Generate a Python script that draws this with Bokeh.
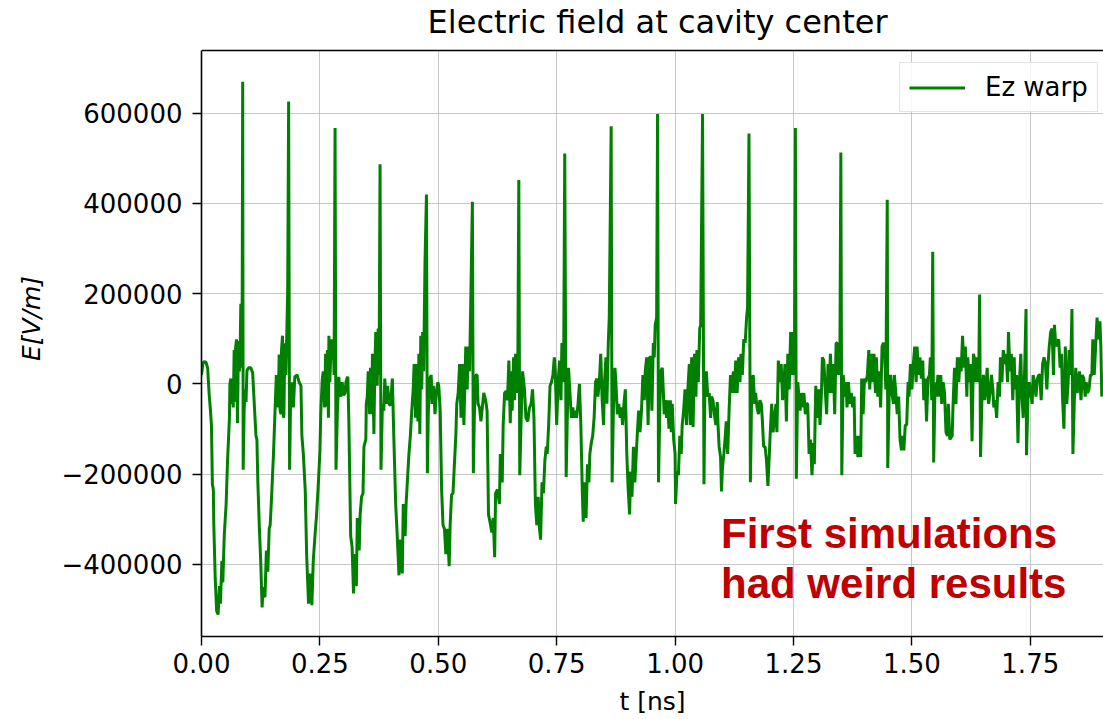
from bokeh.plotting import figure
from bokeh.models import Range1d, FixedTicker, Label, Legend, LegendItem, BoxAnnotation, Span
from bokeh.embed import file_html
from bokeh.resources import INLINE

# ---- data: time [ns] and Ez [kV/m], in six segments ----
t_a = [0.000, 0.003, 0.006, 0.010, 0.013, 0.016, 0.019, 0.021, 0.023, 0.025, 0.026, 0.029, 0.032, 0.035, 0.038, 0.040, 0.043, 0.045, 0.048, 0.052, 0.055, 0.059, 0.060, 0.062, 0.064, 0.066, 0.067, 0.069, 0.071, 0.072, 0.074, 0.076, 0.078, 0.080, 0.082, 0.083, 0.085, 0.086, 0.087, 0.088, 0.090, 0.092, 0.094, 0.096, 0.100, 0.104, 0.108, 0.111, 0.115, 0.117, 0.119, 0.122, 0.125, 0.128, 0.130, 0.132, 0.134, 0.137, 0.140, 0.143, 0.145, 0.148, 0.152, 0.155, 0.158, 0.160, 0.162, 0.164, 0.166, 0.168, 0.169, 0.171, 0.173, 0.174, 0.176, 0.178, 0.180, 0.182, 0.184, 0.186, 0.188, 0.190, 0.191, 0.194, 0.197, 0.202, 0.206, 0.210, 0.212, 0.215, 0.219, 0.222, 0.226, 0.229, 0.233, 0.236, 0.240, 0.243, 0.247, 0.250, 0.252, 0.255, 0.257, 0.260, 0.262, 0.264, 0.266, 0.268, 0.269, 0.271, 0.274, 0.276, 0.278, 0.280, 0.282, 0.284, 0.287, 0.290, 0.292, 0.294, 0.297, 0.300, 0.303, 0.305, 0.307, 0.309, 0.311]
e_a = [20, 45, 50, 47, 35, -20, -60, -91, -222, -234, -313, -432, -503, -511, -448, -487, -392, -440, -337, -266, -170, -75, 0, 12, -45, 10, -52, 75, -40, 80, 99, -87, 95, 28, 100, 178, 36, 210, 670, -190, -60, -12, -40, 30, 36, 36, 25, -36, -115, -123, -218, -313, -392, -495, -450, -470, -472, -369, -416, -320, -313, -250, -155, -67, 20, -20, -52, 65, -59, -67, 75, 107, -75, -67, 90, 20, 105, 210, 626, -190, -44, -50, 4, -52, 16, 20, 4, -4, -115, -155, -234, -377, -487, -420, -490, -392, -330, -290, -215, -150, -59, 10, 28, -52, 67, -50, 75, -75, 107, 4, 99, 55, 99, 20, 567, -190, -59, 16, -20, -28, 4, -25, -20, 4, 12, 16, -75]

t_b = [0.315, 0.318, 0.321, 0.324, 0.327, 0.329, 0.333, 0.335, 0.338, 0.341, 0.343, 0.347, 0.348, 0.350, 0.352, 0.355, 0.357, 0.359, 0.361, 0.364, 0.366, 0.368, 0.371, 0.373, 0.375, 0.377, 0.379, 0.382, 0.385, 0.387, 0.390, 0.393, 0.396, 0.399, 0.403, 0.406, 0.410, 0.413, 0.417, 0.420, 0.424, 0.426, 0.430, 0.432, 0.435, 0.438, 0.441, 0.444, 0.447, 0.449, 0.452, 0.454, 0.457, 0.459, 0.461, 0.463, 0.465, 0.467, 0.469, 0.472, 0.475, 0.477, 0.479, 0.482, 0.485, 0.487, 0.490, 0.493, 0.496, 0.499, 0.501, 0.504, 0.507, 0.510, 0.513, 0.516, 0.519, 0.523, 0.525, 0.528, 0.531, 0.534, 0.537, 0.539, 0.542, 0.545, 0.548, 0.551, 0.554, 0.558, 0.561, 0.563, 0.566, 0.569, 0.572, 0.574, 0.576, 0.579, 0.582, 0.584, 0.587, 0.590, 0.593, 0.596, 0.600, 0.603, 0.606, 0.609, 0.613, 0.616, 0.619, 0.621, 0.625]
e_b = [-337, -361, -464, -377, -448, -297, -369, -289, -250, -242, -139, -123, -44, -28, 28, -67, 36, -67, 67, -111, 36, 115, -4, 123, 20, 487, -190, -44, -59, 12, -44, -4, -44, -48, 12, -115, -266, -329, -424, -345, -420, -266, -337, -266, -210, -155, -115, -59, -12, 44, -75, 44, -83, 67, -111, 107, -12, 115, 28, 273, 420, -198, -59, 12, 20, -44, -4, -67, -20, 4, -4, -59, -234, -313, -321, -377, -321, -404, -313, -246, -242, -178, -115, -44, -20, 44, -75, 44, -91, 83, -12, 83, 28, 210, 404, -198, -75, 20, 20, -44, -52, -83, -52, -20, -36, -59, -289, -305, -329, -297, -384, -242, -234]

t_c = [0.629, 0.631, 0.635, 0.637, 0.640, 0.643, 0.646, 0.649, 0.652, 0.654, 0.656, 0.659, 0.661, 0.663, 0.666, 0.668, 0.670, 0.672, 0.675, 0.678, 0.682, 0.685, 0.689, 0.692, 0.696, 0.699, 0.702, 0.705, 0.708, 0.711, 0.713, 0.716, 0.719, 0.722, 0.725, 0.728, 0.730, 0.733, 0.736, 0.739, 0.742, 0.745, 0.747, 0.750, 0.753, 0.756, 0.759, 0.761, 0.763, 0.765, 0.767, 0.770, 0.773, 0.775, 0.778, 0.781, 0.784, 0.787, 0.790, 0.792, 0.795, 0.798, 0.801, 0.804, 0.806, 0.809, 0.812, 0.815, 0.818, 0.820, 0.823, 0.826, 0.829, 0.832, 0.835, 0.837, 0.840, 0.843, 0.846, 0.849, 0.851, 0.854, 0.856, 0.859, 0.861, 0.865, 0.867, 0.870, 0.873, 0.875, 0.878, 0.881, 0.884, 0.887, 0.889, 0.892, 0.895, 0.898, 0.901, 0.904, 0.906, 0.909, 0.912, 0.915, 0.918, 0.920, 0.923, 0.926, 0.929, 0.932, 0.935, 0.937, 0.940, 0.943, 0.946]
e_c = [-266, -155, -218, -91, -20, -16, -36, 52, -87, 28, -59, 59, -36, 67, -20, 59, 452, -202, -75, 28, -12, -75, -83, -55, -44, -12, -75, -266, -313, -250, -313, -345, -218, -242, -170, -139, -155, -91, -4, 4, 20, 59, 28, -91, 4, 52, -36, 91, 4, 99, 511, -206, -44, 36, -20, -75, -52, -75, -59, -75, -44, 0, -91, -234, -305, -218, -297, -178, -218, -155, -131, -115, -75, 4, 12, -28, 4, 67, -36, -91, 4, 59, -44, 91, 147, 571, -218, -44, 36, 4, -67, -44, -75, -52, -91, -44, -12, -155, -234, -289, -194, -250, -139, -218, -155, -115, -59, -107, -59, 20, -36, 28, 59, -91, 59]

t_d = [0.949, 0.951, 0.954, 0.956, 0.958, 0.961, 0.963, 0.965, 0.968, 0.970, 0.973, 0.975, 0.977, 0.979, 0.982, 0.984, 0.987, 0.990, 0.992, 0.994, 0.997, 1.000, 1.001, 1.004, 1.007, 1.010, 1.013, 1.015, 1.018, 1.021, 1.024, 1.027, 1.030, 1.032, 1.035, 1.038, 1.041, 1.044, 1.046, 1.049, 1.052, 1.054, 1.058, 1.061, 1.063, 1.066, 1.069, 1.072, 1.075, 1.077, 1.080, 1.083, 1.086, 1.089, 1.091, 1.093, 1.096, 1.098, 1.100, 1.103, 1.106, 1.108, 1.111, 1.114, 1.117, 1.120, 1.123, 1.125, 1.128, 1.131, 1.134, 1.137, 1.139, 1.142, 1.145, 1.148, 1.151, 1.153, 1.156, 1.159, 1.162, 1.165, 1.168, 1.170, 1.173, 1.176, 1.179, 1.182, 1.184, 1.187, 1.190, 1.193, 1.196, 1.199, 1.201, 1.204, 1.207, 1.210, 1.213, 1.215, 1.218, 1.221, 1.224, 1.227, 1.230, 1.232, 1.235, 1.238, 1.241, 1.244, 1.246, 1.249, 1.252, 1.254, 1.256, 1.259]
e_d = [59, -59, 91, 59, 131, 147, 598, -218, -44, 28, 36, -12, -67, -36, -75, -36, -99, -36, -107, -44, -123, -155, -266, -194, -202, -115, -155, -91, -59, -12, -91, -12, 44, -91, 59, -95, 67, -28, 75, 4, 123, 131, 598, -222, 4, 28, -28, -20, -75, -28, -36, -67, -91, -40, -99, -139, -162, -238, -186, -155, -115, -83, -155, -59, 20, -20, 28, -20, 52, -20, 59, 4, 67, 20, 99, 91, 147, 170, 555, -218, 4, 20, -44, -20, -52, -67, -36, -44, -75, -139, -139, -170, -226, -155, -107, -44, -107, -75, -44, -107, 52, 4, 44, -36, 4, 44, -83, 67, -12, 115, 20, 115, 20, 567, -210, 4]

t_e = [1.264, 1.266, 1.269, 1.272, 1.275, 1.278, 1.280, 1.283, 1.286, 1.289, 1.292, 1.294, 1.297, 1.300, 1.303, 1.306, 1.309, 1.311, 1.314, 1.317, 1.320, 1.323, 1.325, 1.328, 1.331, 1.334, 1.337, 1.340, 1.342, 1.345, 1.348, 1.350, 1.352, 1.355, 1.358, 1.361, 1.363, 1.366, 1.369, 1.372, 1.375, 1.378, 1.380, 1.383, 1.386, 1.389, 1.392, 1.394, 1.397, 1.400, 1.403, 1.406, 1.409, 1.411, 1.414, 1.417, 1.420, 1.423, 1.425, 1.428, 1.431, 1.434, 1.437, 1.440, 1.442, 1.445, 1.448, 1.449, 1.452, 1.455, 1.458, 1.461, 1.463, 1.466, 1.469, 1.472, 1.475, 1.478, 1.480, 1.483, 1.486, 1.489, 1.492, 1.494, 1.497, 1.500, 1.503, 1.506, 1.509, 1.511, 1.514, 1.517, 1.520, 1.523, 1.525, 1.528, 1.531, 1.534, 1.537, 1.539, 1.542, 1.544, 1.546, 1.549, 1.552, 1.555, 1.558, 1.561, 1.563, 1.566, 1.569, 1.572, 1.575, 1.577, 1.580]
e_e = [-59, -20, -52, -20, -67, -44, -44, -155, -123, -202, -131, -178, -4, -75, -12, -91, -20, 59, 52, -12, -67, 44, -20, 67, -20, 44, -67, 91, 91, 20, 59, 513, -202, 20, -28, 4, -52, 4, -44, -20, -52, -28, -155, -115, -162, -115, -162, 12, -67, 12, 4, 20, 75, -12, 67, 4, 67, -20, 59, -28, 28, -52, 83, 91, 83, -12, 408, -186, -28, 20, -20, -44, 20, -20, -67, -28, -123, -147, -115, -147, -91, -91, 4, -28, 44, -12, 44, 83, 4, 83, 20, 59, 12, 52, -36, 12, -83, 12, 20, 59, -36, 293, -174, 4, -28, 20, -28, 20, -44, 4, -20, -107, -115, -44, -123]

t_f = [1.585, 1.587, 1.590, 1.593, 1.596, 1.599, 1.602, 1.604, 1.607, 1.610, 1.613, 1.616, 1.618, 1.621, 1.624, 1.627, 1.630, 1.633, 1.635, 1.638, 1.641, 1.643, 1.645, 1.648, 1.651, 1.654, 1.656, 1.659, 1.662, 1.665, 1.668, 1.671, 1.673, 1.676, 1.679, 1.682, 1.685, 1.687, 1.690, 1.693, 1.696, 1.699, 1.702, 1.704, 1.707, 1.710, 1.713, 1.716, 1.718, 1.721, 1.724, 1.727, 1.730, 1.732, 1.735, 1.738, 1.741, 1.742, 1.745, 1.748, 1.751, 1.754, 1.756, 1.759, 1.762, 1.765, 1.768, 1.770, 1.773, 1.776, 1.779, 1.782, 1.785, 1.787, 1.790, 1.793, 1.796, 1.799, 1.801, 1.804, 1.807, 1.810, 1.813, 1.816, 1.818, 1.821, 1.824, 1.827, 1.830, 1.832, 1.835, 1.838, 1.840, 1.843, 1.846, 1.849, 1.851, 1.854, 1.857, 1.860, 1.863, 1.866, 1.868, 1.871, 1.874, 1.877, 1.880, 1.882, 1.885, 1.888, 1.891, 1.894, 1.897, 1.899, 1.901]
e_f = [-115, -44, 36, -44, 59, 4, 59, 28, 107, 36, 83, -28, 59, 4, 44, -127, 67, 52, 4, 59, 4, 198, -162, -28, 20, -36, -12, 36, -44, -20, 20, -12, -52, -36, -75, 4, -28, 59, 4, 75, 44, 67, 4, 115, 28, 67, -36, 59, -12, 20, -131, 4, 67, -20, -75, 28, 166, -158, -36, 4, -20, -44, 20, 4, -28, 12, 20, 20, -36, 44, 59, 44, -12, 36, 83, 115, 123, 20, 131, 83, 91, 99, 36, 67, -28, -99, 83, -44, 4, 75, 20, 166, -155, -36, 36, -20, 4, 28, -36, 20, 12, -28, 4, -20, -12, 20, 20, 99, 20, 83, 147, 99, 139, 83, -28]

x_ticks = [0.0, 0.25, 0.5, 0.75, 1.0, 1.25, 1.5, 1.75]
x_tick_labels = ["0.00", "0.25", "0.50", "0.75", "1.00", "1.25", "1.50", "1.75"]
y_ticks = [-400000, -200000, 0, 200000, 400000, 600000]
y_tick_labels = ["\u2212400000", "\u2212200000", "0", "200000", "400000", "600000"]

title_text = "Electric field at cavity center"
series_label = "Ez warp"
note_lines = ["First simulations", "had weird results"]

t_ns = t_a + t_b + t_c + t_d + t_e + t_f
ez = [v * 1000 for v in (e_a + e_b + e_c + e_d + e_e + e_f)]  # kV/m -> V/m

FONT = "DejaVu Sans"
Y_MIN, Y_MAX = -559600, 739000      # axes limits of the data area
Y_TOP = 849800                      # extra head room that holds the title

p = figure(width=1103, height=719, output_backend="svg", toolbar_location=None,
           x_range=Range1d(0, 1.9046), y_range=Range1d(Y_MIN, Y_TOP),
           min_border_left=201, min_border_right=0, min_border_top=0,
           min_border_bottom=83)
p.title.visible = False
p.outline_line_color = None
p.background_fill_color = "white"
p.border_fill_color = "white"

xa = p.xaxis[0]
ya = p.yaxis[0]
xa.ticker = FixedTicker(ticks=x_ticks)
ya.ticker = FixedTicker(ticks=y_ticks)
ya.bounds = (Y_MIN, Y_MAX)
xa.major_label_overrides = dict(zip(x_ticks, x_tick_labels))
ya.major_label_overrides = dict(zip(y_ticks, y_tick_labels))
xa.axis_label = "t [ns]"
ya.axis_label = "E[V/m]"
ya.axis_label_text_font_style = "italic"
xa.axis_label_text_font_style = "normal"
for ax in (xa, ya):
    ax.axis_line_color = "black"
    ax.axis_line_width = 1.6
    ax.major_tick_line_color = "black"
    ax.major_tick_line_width = 1.4
    ax.major_tick_out = 9
    ax.major_tick_in = 0
    ax.minor_tick_line_color = None
    ax.major_label_text_font = FONT
    ax.major_label_text_font_size = "26px"
    ax.major_label_text_color = "black"
    ax.axis_label_text_font = FONT
    ax.axis_label_text_font_size = "25px"
    ax.axis_label_text_color = "black"
xa.major_label_standoff = 7
xa.axis_label_standoff = 11
ya.major_label_standoff = 10
ya.axis_label_standoff = 12

for g in (p.xgrid[0], p.ygrid[0]):
    g.grid_line_color = "#b0b0b0"
    g.grid_line_alpha = 0.7
    g.grid_line_width = 1

r = p.line(t_ns, ez, line_color="#008000", line_width=3)

# head room above the axes: blank it, draw the top spine and the title
p.add_layout(BoxAnnotation(bottom=Y_MAX, fill_color="white", fill_alpha=1.0,
                           line_color=None))
p.add_layout(Span(location=Y_MAX, dimension="width", line_color="black",
                  line_width=1.6))
p.add_layout(Label(x=0.963, y=802900, text=title_text, text_font=FONT,
                   text_font_size="32px", text_color="black",
                   text_align="center", text_baseline="alphabetic"))

legend = Legend(items=[LegendItem(label=series_label, renderers=[r])],
                location=(698, 524))
legend.label_text_font = FONT
legend.label_text_font_size = "26px"
legend.label_text_color = "black"
legend.glyph_width = 56
legend.glyph_height = 27
legend.label_height = 27
legend.label_standoff = 20
legend.padding = 9
legend.margin = 0
legend.spacing = 0
legend.border_line_color = "#cccccc"
legend.border_line_width = 1.5
legend.background_fill_color = "white"
legend.background_fill_alpha = 0.85
p.add_layout(legend)

for txt, yv in zip(note_lines, [-331700, -442600]):
    p.add_layout(Label(x=1.097, y=yv, text=txt, text_font="Liberation Sans",
                       text_font_style="bold", text_font_size="42px",
                       text_color="#C00000", text_baseline="alphabetic",
                       text_align="left"))

open("out.html", "w").write(file_html(p, INLINE))
